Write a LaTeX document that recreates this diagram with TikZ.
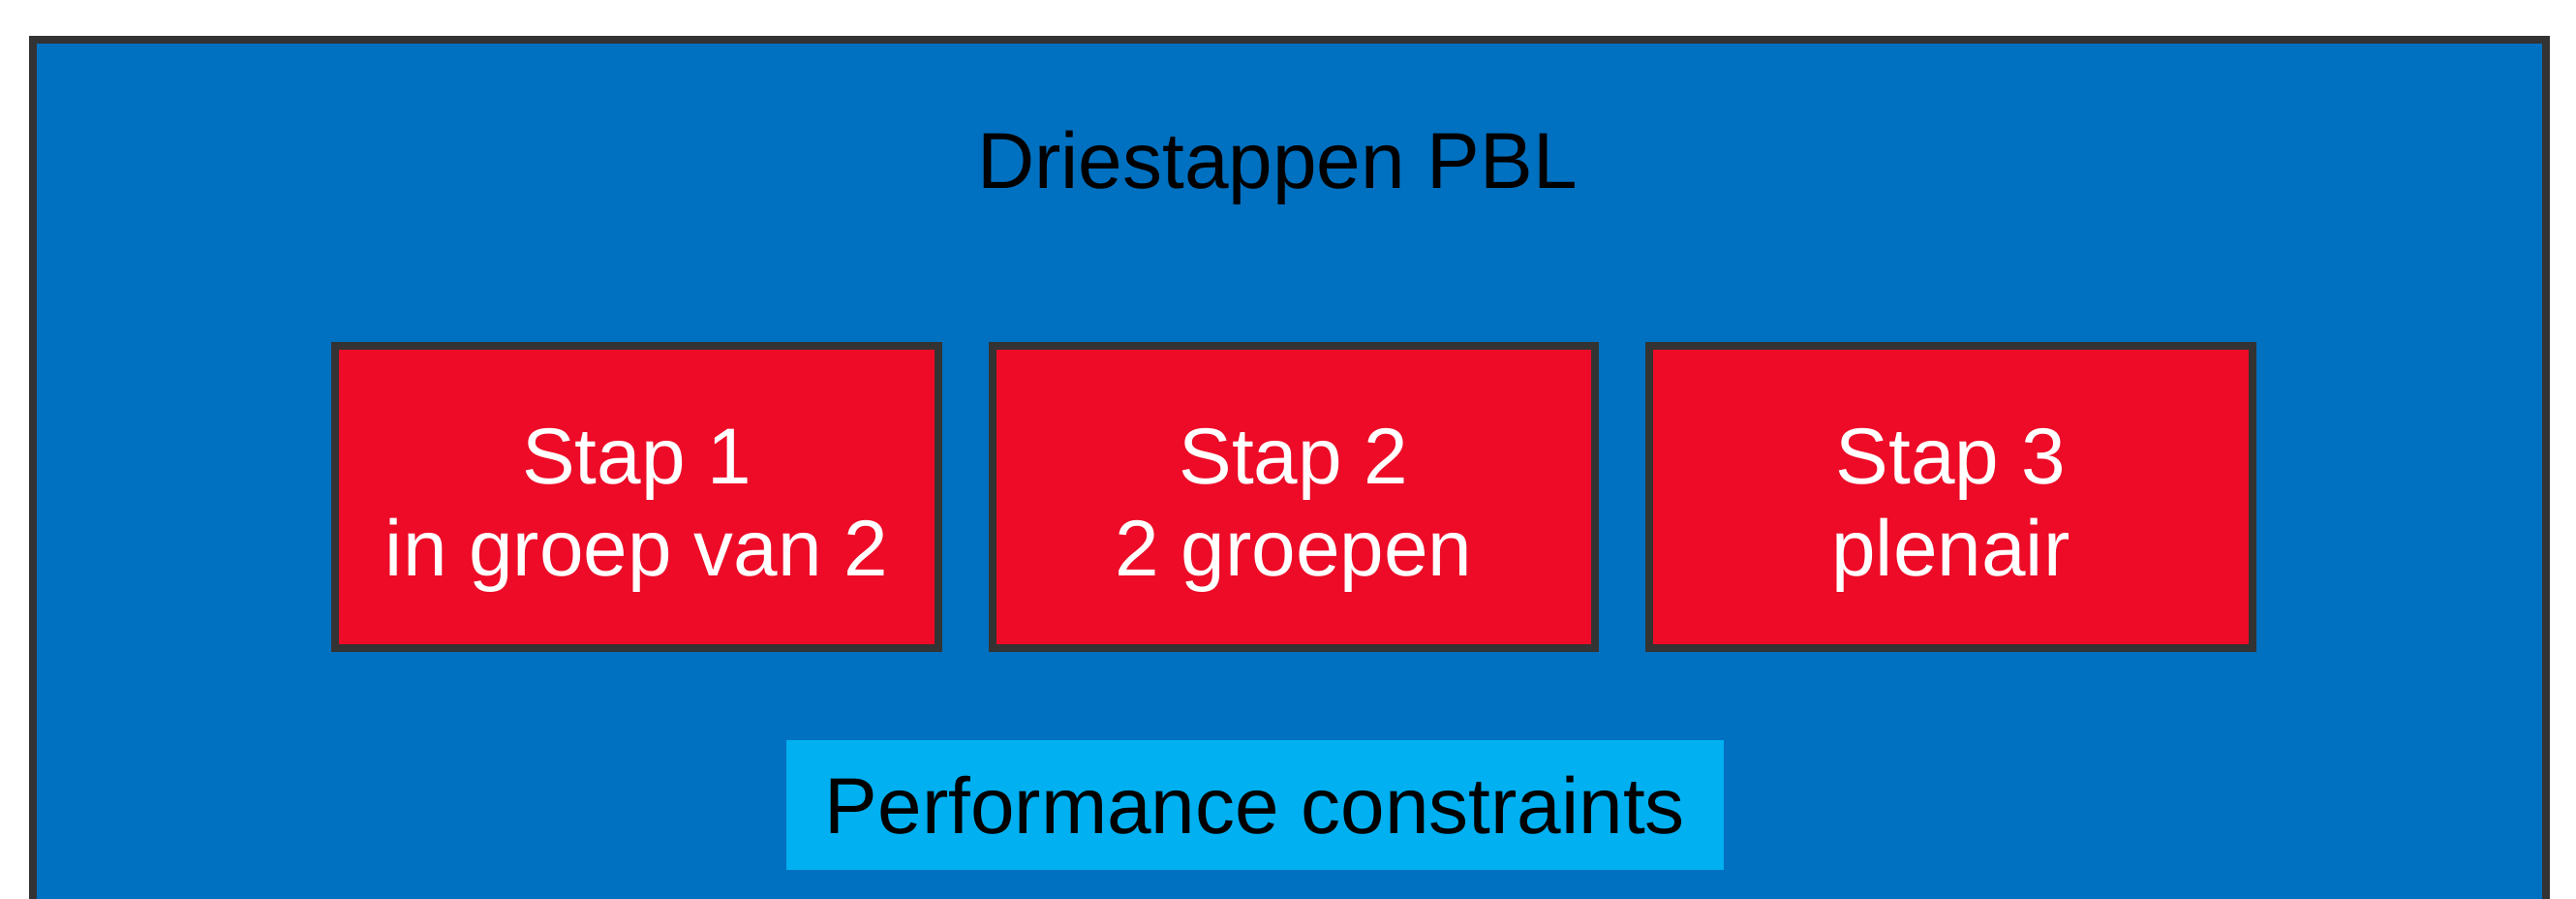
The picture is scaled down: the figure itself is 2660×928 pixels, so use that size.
\documentclass[tikz,border=0pt]{standalone}
\usepackage{fontspec}
\setmainfont{Liberation Sans}
\usetikzlibrary{positioning}
\definecolor{frameBlue}{HTML}{0070C0}
\definecolor{stepRed}{HTML}{ED0B27}
\definecolor{noteCyan}{HTML}{00B0F0}
\definecolor{edgeGrey}{HTML}{333333}
\newcommand{\StepLift}{\rule{0pt}{24pt}}
\tikzset{
    % Common
    diaText/.style={font=\fontsize{23.3pt}{27pt}\selectfont},
    outerFrame/.style={draw=edgeGrey, line width=2.3pt, fill=frameBlue},
    titleText/.style={diaText, text=black, inner sep=0pt},
    % Step boxes
    stepBox/.style={
        rectangle, diaText, draw=edgeGrey, line width=2.3pt, fill=stepRed,
        text=white, align=center, minimum width=6.22cm, minimum height=3.12cm,
        outer sep=0pt, inner sep=0pt
    },
    % Bottom strip
    constraintBox/.style={
        rectangle, diaText, fill=noteCyan, text=black,
        minimum width=9.67cm, minimum height=1.33cm, inner sep=0pt
    }
}

\begin{document}
\begin{tikzpicture}[x=0.01cm, y=0.01cm]
    \useasboundingbox (0,0) rectangle (2660,928);
    \clip (0,0) rectangle (2660,928);

    % Outer frame (runs past the bottom edge)
    \draw[outerFrame] (34,-50) rectangle (2629,887);

    % Title
    \node[titleText, anchor=base] (title) at (1319,733) {Driestappen PBL};

    % Steps
    \node[stepBox] (stap2) at (1336,415) {\StepLift Stap 2\\2 groepen};
    \node[stepBox, left=0.56cm of stap2] (stap1) {\StepLift Stap 1\\in groep van 2};
    \node[stepBox, right=0.56cm of stap2] (stap3) {\StepLift Stap 3\\plenair};

    % Constraints
    \node[constraintBox] (perf) at (1296,97) {Performance constraints};
\end{tikzpicture}
\end{document}
